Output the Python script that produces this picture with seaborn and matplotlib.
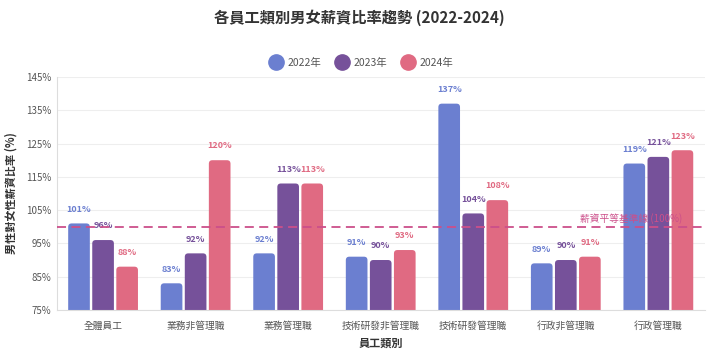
import pandas as pd
import seaborn as sns
import matplotlib.pyplot as plt
from matplotlib.patches import FancyBboxPatch

# data
categories = ['全體員工', '業務非管理職', '業務管理職', '技術研發非管理職', '技術研發管理職', '行政非管理職', '行政管理職']
years = ['2022年', '2023年', '2024年']
ratio_2022 = [101, 83, 92, 91, 137, 89, 119]
ratio_2023 = [96, 92, 113, 90, 104, 90, 121]
ratio_2024 = [88, 120, 113, 93, 108, 91, 123]
y_ticks = [75, 85, 95, 105, 115, 125, 135, 145]
baseline = 100

colors = ['#6b7fd0', '#76519a', '#e06a82']

df = pd.DataFrame({
    'category': categories * 3,
    'year': [y for y in years for _ in categories],
    'ratio': ratio_2022 + ratio_2023 + ratio_2024,
})

sns.set_style('white')
plt.rcParams['font.family'] = ['Noto Sans CJK TC', 'DejaVu Sans']

fig = plt.figure(figsize=(7.19, 3.55), dpi=100)
ax = fig.add_axes([0.079, 0.127, 0.901, 0.656])

sns.barplot(data=df, x='category', y='ratio', hue='year', palette=colors,
            width=0.78, gap=0.1, ax=ax, legend=False, saturation=1)

ax.set_ylim(75, 145)
ax.set_xlim(-0.5, len(categories) - 0.5)
ax.set_yticks(y_ticks)
ax.set_yticklabels([f'{t}%' for t in y_ticks], fontsize=7, color='#555555')
ax.tick_params(axis='x', labelsize=7, colors='#555555', length=0, pad=8)
ax.tick_params(axis='y', length=0, pad=4)
ax.grid(axis='y', color='#eeeeee', linewidth=0.8)
ax.set_axisbelow(True)
for s in ['top', 'right']:
    ax.spines[s].set_visible(False)
for s in ['left', 'bottom']:
    ax.spines[s].set_color('#dddddd')

# rounded tops: swap each bar rectangle for a rounded box of the same size
px_x = 0.901 * 719 / len(categories)
px_y = 0.656 * 355 / (145 - 75)
for cont in ax.containers:
    for rect in cont:
        rect.set_visible(False)
        box = FancyBboxPatch((rect.get_x(), rect.get_y()), rect.get_width(), rect.get_height(),
                             boxstyle='round,pad=0,rounding_size=%.4f' % (3.5 / px_x),
                             mutation_aspect=px_x / px_y, facecolor=rect.get_facecolor(),
                             edgecolor='none', zorder=2)
        ax.add_patch(box)

# value labels
for cont, col in zip(ax.containers, colors):
    ax.bar_label(cont, labels=[f'{v:.0f}%' for v in cont.datavalues],
                 padding=7, fontsize=6.5, fontweight='bold', color=col)

# equality baseline
ax.axhline(baseline, color='#cc4f8a', linestyle=(0, (5, 3)), linewidth=1.3, zorder=3)
ax.text(5.15, baseline + 0.7, '薪資平等基準線 (100%)', color='#cc4f8a', fontsize=7, va='bottom')

ax.set_xlabel('員工類別', fontsize=8, fontweight='bold', color='#333333', labelpad=4)
ax.set_ylabel('男性對女性薪資比率 (%)', fontsize=8, fontweight='bold', color='#333333', labelpad=6)

# legend with circle markers
handles = [plt.Line2D([], [], marker='o', linestyle='', markersize=11, color=c) for c in colors]
fig.legend(handles, years, loc='center', bbox_to_anchor=(0.5, 0.823), ncol=3, frameon=False,
           fontsize=7.5, handletextpad=0.1, columnspacing=1.0, labelcolor='#555555')

fig.suptitle('各員工類別男女薪資比率趨勢 (2022-2024)', x=0.5, y=0.975, fontsize=11,
             fontweight='bold', color='#333333')

fig.savefig('out.png', dpi=100)
